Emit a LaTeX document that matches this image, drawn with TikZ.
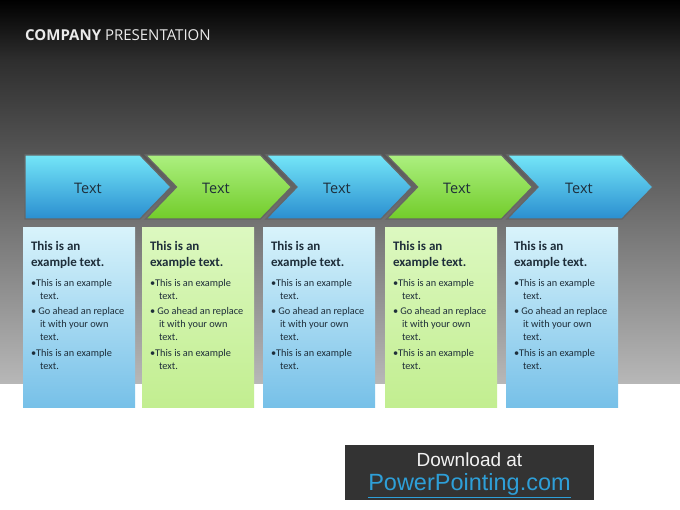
\documentclass[tikz,border=0pt]{standalone}
\usepackage{fontspec}
\setmainfont{Carlito}
\newfontfamily\titlefont{Open Sans}
\newfontfamily\arialfont{Liberation Sans}
\usetikzlibrary{positioning}
\definecolor{chevbluetop}{HTML}{74E6F8}
\definecolor{chevbluebot}{HTML}{2A8ED0}
\definecolor{chevgreentop}{HTML}{ACF080}
\definecolor{chevgreenbot}{HTML}{72CC2A}
\definecolor{boxbluetop}{HTML}{D8F3FB}
\definecolor{boxbluebot}{HTML}{76C0E8}
\definecolor{boxgreentop}{HTML}{DCF8C0}
\definecolor{boxgreenbot}{HTML}{C2EE90}
\definecolor{darktext}{HTML}{1E2E3A}
\definecolor{linkblue}{HTML}{2E9FD8}
\newcommand\boxhead{This is an\\example text.}
\newcommand\boxlist{•This is an example\\\hspace*{9pt}text.\\[2.5pt]
  • Go ahead an replace\\\hspace*{9pt}it with your own\\\hspace*{9pt}text.\\[2.5pt]
  •This is an example\\\hspace*{9pt}text.}
\begin{document}
\begin{tikzpicture}[x=1pt,y=-1pt]
    \tikzstyle{chevblue}=[top color=chevbluetop,bottom color=chevbluebot,draw=black!60,line width=1.3pt]
    \tikzstyle{chevgreen}=[top color=chevgreentop,bottom color=chevgreenbot,draw=black!60,line width=1.3pt]
    \tikzstyle{chevtext}=[font=\titlefont\fontsize{14.5}{16}\selectfont,text=darktext]
    \tikzstyle{bluebox}=[top color=boxbluetop,bottom color=boxbluebot,minimum width=112pt,minimum height=180pt,inner sep=0pt]
    \tikzstyle{greenbox}=[top color=boxgreentop,bottom color=boxgreenbot,minimum width=112pt,minimum height=180pt,inner sep=0pt]
    \tikzstyle{head}=[anchor=north west,inner sep=0pt,align=left,text=darktext,font=\bfseries\fontsize{13}{16}\selectfont]
    \tikzstyle{list}=[anchor=north west,inner sep=0pt,align=left,text=darktext,font=\fontsize{10.3}{13}\selectfont]
    \useasboundingbox (0,0) rectangle (680,510);
    \fill[white] (0,0) rectangle (680,510);
    \shade[top color=black,bottom color=black!82] (0,0) rectangle (680,60);
    \shade[top color=black!82,bottom color=black!28] (0,60) rectangle (680,384);
    \node[anchor=base west,inner sep=0pt,text=black!8,font=\titlefont\fontsize{15}{17}\selectfont] (title) at (25,41) {\textbf{COMPANY} PRESENTATION};
    \shade[chevblue] (25,155) -- (140,155) -- (171,187) -- (140,219) -- (25,219) -- cycle;
    \shade[chevgreen] (145.5,155) -- (260.5,155) -- (291.5,187) -- (260.5,219) -- (145.5,219) -- (176.5,187) -- cycle;
    \shade[chevblue] (266,155) -- (381,155) -- (412,187) -- (381,219) -- (266,219) -- (297,187) -- cycle;
    \shade[chevgreen] (386.5,155) -- (501.5,155) -- (532.5,187) -- (501.5,219) -- (386.5,219) -- (417.5,187) -- cycle;
    \shade[chevblue] (507,155) -- (622,155) -- (653,187) -- (622,219) -- (507,219) -- (538,187) -- cycle;
    \node[chevtext] (t1) at (88,188) {Text};
    \node[chevtext] (t2) at (216,188) {Text};
    \node[chevtext] (t3) at (337,188) {Text};
    \node[chevtext] (t4) at (457,188) {Text};
    \node[chevtext] (t5) at (579,188) {Text};
    \node[bluebox] (b1) at (79,318) {};
    \node[greenbox] (b2) at (198,318) {};
    \node[bluebox] (b3) at (319,318) {};
    \node[greenbox] (b4) at (441,318) {};
    \node[bluebox] (b5) at (562,318) {};
    \node[head] (h1) at ([xshift=8pt,yshift=-13.5pt]b1.north west) {\boxhead};
    \node[head] (h2) at ([xshift=8pt,yshift=-13.5pt]b2.north west) {\boxhead};
    \node[head] (h3) at ([xshift=8pt,yshift=-13.5pt]b3.north west) {\boxhead};
    \node[head] (h4) at ([xshift=8pt,yshift=-13.5pt]b4.north west) {\boxhead};
    \node[head] (h5) at ([xshift=8pt,yshift=-13.5pt]b5.north west) {\boxhead};
    \node[list] (l1) at ([yshift=-10pt]h1.south west) {\boxlist};
    \node[list] (l2) at ([yshift=-10pt]h2.south west) {\boxlist};
    \node[list] (l3) at ([yshift=-10pt]h3.south west) {\boxlist};
    \node[list] (l4) at ([yshift=-10pt]h4.south west) {\boxlist};
    \node[list] (l5) at ([yshift=-10pt]h5.south west) {\boxlist};
    \node[fill=black!80,minimum width=249pt,minimum height=55pt] (dl) at (469.5,472.5) {};
    \node[text=black!5,font=\arialfont\fontsize{19}{22}\selectfont] (d1) at (469.5,460) {Download at};
    \node[text=linkblue,font=\arialfont\fontsize{23.5}{26}\selectfont] (d2) at (469.5,485.5) {\underline{PowerPointing.com}};
\end{tikzpicture}
\end{document}
